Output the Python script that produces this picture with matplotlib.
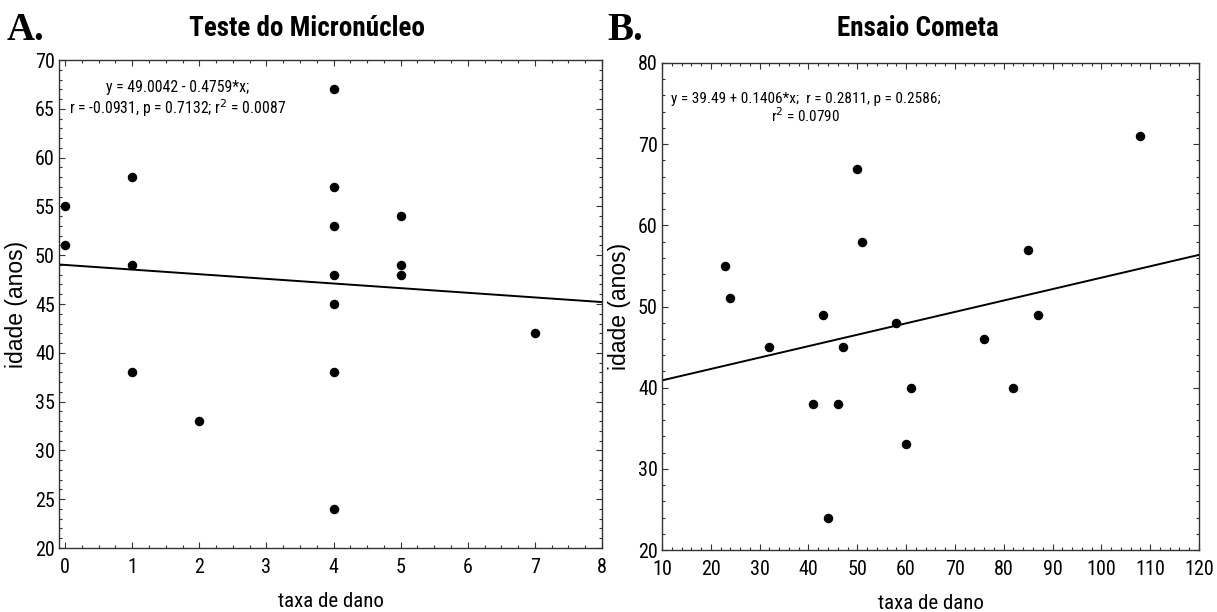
import matplotlib
matplotlib.use("Agg")
import matplotlib.pyplot as plt  # noqa: E402
from matplotlib.ticker import MultipleLocator  # noqa: E402
import numpy as np  # noqa: E402

SANS = ["Liberation Sans Narrow", "Roboto Condensed", "Liberation Sans", "DejaVu Sans"]
plt.rcParams["font.family"] = SANS

# Teste do Micronucleo
mn_taxa = [0, 0, 1, 1, 1, 2, 4, 4, 4, 4, 4, 4, 4, 5, 5, 5, 7]
mn_idade = [55, 51, 58, 49, 38, 33, 67, 57, 53, 48, 45, 38, 24, 54, 49, 48, 42]
mn_coef = (49.0042, -0.4759)

# Ensaio Cometa
ec_taxa = [23, 24, 32, 41, 43, 44, 46, 47, 50, 51, 58, 60, 61, 76, 82, 85, 87, 108]
ec_idade = [55, 51, 45, 38, 49, 24, 38, 45, 67, 58, 48, 33, 40, 46, 40, 57, 49, 71]
ec_coef = (39.49, 0.1406)

W, H = 1217, 612
fig = plt.figure(figsize=(W / 100, H / 100), dpi=100)


def box(l, t, r, b):
    return [l / W, 1 - b / H, (r - l) / W, (b - t) / H]


def style(ax, xmaj, xmin, ymaj, ymin):
    ax.xaxis.set_major_locator(MultipleLocator(xmaj))
    ax.xaxis.set_minor_locator(MultipleLocator(xmin))
    ax.yaxis.set_major_locator(MultipleLocator(ymaj))
    ax.yaxis.set_minor_locator(MultipleLocator(ymin))
    ax.tick_params(which="both", direction="in", top=True, right=True,
                   colors="#333333", labelcolor="black", labelsize=14.5, width=0.8)
    ax.tick_params(axis="x", which="major", length=4, pad=7)
    ax.tick_params(axis="y", which="major", length=4, pad=3)
    ax.tick_params(which="minor", length=2)
    for s in ax.spines.values():
        s.set_color("#333333")
        s.set_linewidth(1.0)
    ax.set_xlabel("taxa de dano", fontsize=15, labelpad=11)
    ax.set_ylabel("idade (anos)", fontsize=16.5, family=["Liberation Sans", "DejaVu Sans"])
    ax.yaxis.set_label_coords(-0.058, 0.5)


def panel(ax, xs, ys, coef, xlim, ylim):
    ax.scatter(xs, ys, s=34, color="black", zorder=3)
    xx = np.array(xlim)
    ax.plot(xx, coef[0] + coef[1] * xx, color="black", lw=1.4)
    ax.set_xlim(*xlim)
    ax.set_ylim(*ylim)


axA = fig.add_axes(box(59, 60, 602, 548))
panel(axA, mn_taxa, mn_idade, mn_coef, (-0.09, 8), (20, 70))
style(axA, 1, 0.25, 5, 1)
axA.text(0.219, 0.943, "y = 49.0042 - 0.4759*x;", transform=axA.transAxes,
         ha="center", va="center", fontsize=11.3)
axA.text(0.219, 0.902, "r = -0.0931, p = 0.7132; r$^2$ = 0.0087", transform=axA.transAxes,
         ha="center", va="center", fontsize=11.3)

axB = fig.add_axes(box(662, 63, 1199, 550))
panel(axB, ec_taxa, ec_idade, ec_coef, (10, 120), (20, 80))
style(axB, 10, 2, 10, 2)
axB.text(0.268, 0.926, "y = 39.49 + 0.1406*x;  r = 0.2811, p = 0.2586;", transform=axB.transAxes,
         ha="center", va="center", fontsize=11)
axB.text(0.268, 0.891, "r$^2$ = 0.0790", transform=axB.transAxes,
         ha="center", va="center", fontsize=11)

fig.text(307 / W, 1 - 28 / H, "Teste do Micronúcleo", fontsize=19.5, fontweight="bold",
         ha="center", va="center")
fig.text(918 / W, 1 - 28 / H, "Ensaio Cometa", fontsize=19.5, fontweight="bold",
         ha="center", va="center")

serif = ["Liberation Serif", "DejaVu Serif"]
fig.text(7 / W, 1 - 30 / H, "A.", fontsize=28, fontweight="bold", family=serif,
         ha="left", va="center")
fig.text(607 / W, 1 - 30 / H, "B.", fontsize=28, fontweight="bold", family=serif,
         ha="left", va="center")

fig.savefig("out.png", dpi=100)
